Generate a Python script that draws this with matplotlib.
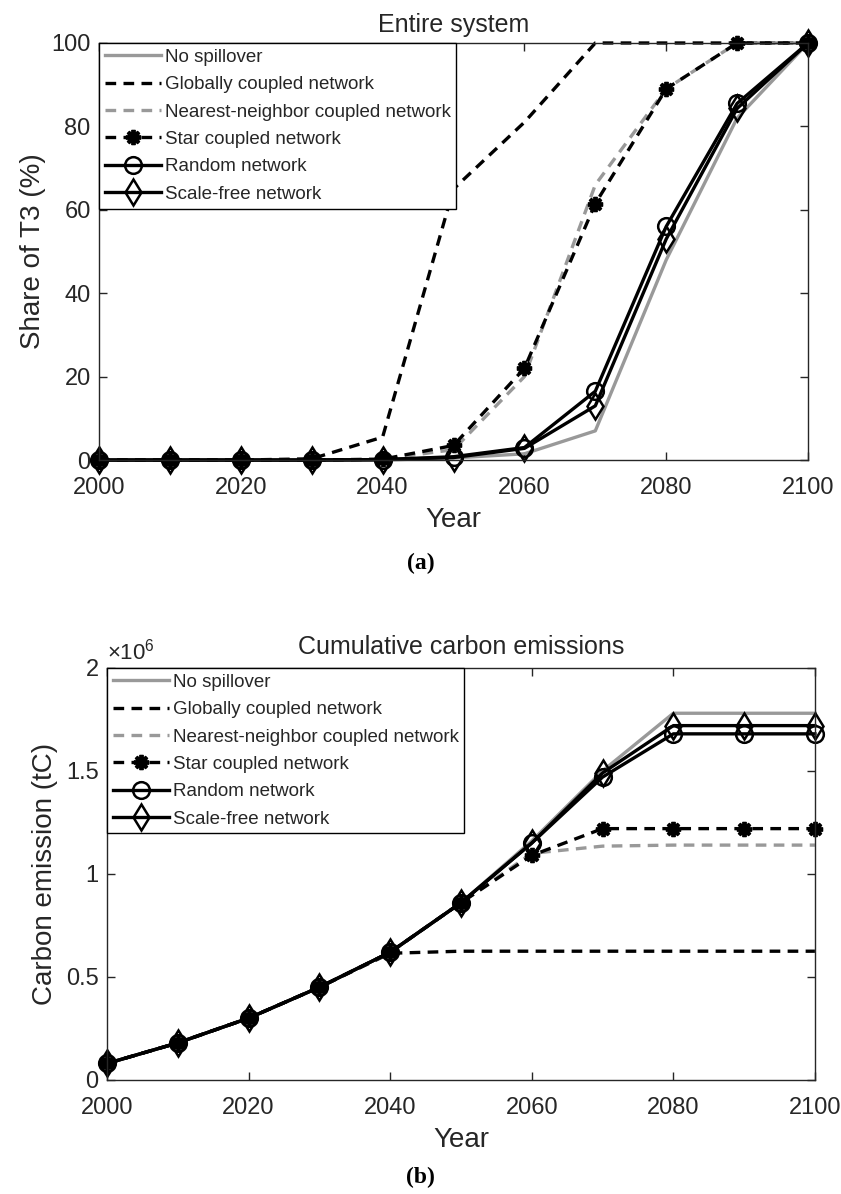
import matplotlib
matplotlib.use("Agg")
import matplotlib.pyplot as plt
from matplotlib.ticker import FixedLocator

plt.rcParams['font.family'] = ['Liberation Sans', 'DejaVu Sans']
plt.rcParams['mathtext.fontset'] = 'custom'
plt.rcParams['mathtext.rm'] = 'Liberation Sans'

years = [2000, 2010, 2020, 2030, 2040, 2050, 2060, 2070, 2080, 2090, 2100]

# Share of technology T3 in the entire system (%)
share_none = [0, 0, 0, 0, 0, 0.5, 1.5, 7, 48, 82, 100]
share_global = [0, 0, 0, 0.3, 5.5, 65, 81, 100, 100, 100, 100]
share_nearest = [0, 0, 0, 0, 0.2, 2.5, 20, 66, 89, 100, 100]
share_star = [0, 0, 0, 0, 0.2, 3.5, 22, 61.5, 89, 100, 100]
share_random = [0, 0, 0, 0, 0.1, 0.8, 3, 16.5, 56, 85.5, 100]
share_scalefree = [0, 0, 0, 0, 0.1, 0.6, 2.8, 13, 53, 84.3, 100]

# Cumulative carbon emissions (x10^6 tC)
emis_none = [0.08, 0.18, 0.30, 0.45, 0.62, 0.86, 1.16, 1.50, 1.78, 1.78, 1.78]
emis_global = [0.08, 0.18, 0.30, 0.45, 0.615, 0.625, 0.625, 0.625, 0.625, 0.625, 0.625]
emis_nearest = [0.08, 0.18, 0.30, 0.45, 0.62, 0.86, 1.10, 1.135, 1.14, 1.14, 1.14]
emis_star = [0.08, 0.18, 0.30, 0.45, 0.62, 0.86, 1.09, 1.22, 1.22, 1.22, 1.22]
emis_random = [0.08, 0.18, 0.30, 0.45, 0.62, 0.86, 1.15, 1.47, 1.68, 1.68, 1.68]
emis_scalefree = [0.08, 0.18, 0.30, 0.45, 0.62, 0.86, 1.15, 1.49, 1.72, 1.72, 1.72]

labels = ["No spillover", "Globally coupled network", "Nearest-neighbor coupled network",
          "Star coupled network", "Random network", "Scale-free network"]

GRAY = "#999999"
TXT = "#262626"
LW = 2.4
DASH = (0, (3.2, 2.2))
ASTER = (8, 2, 0)

styles = [
    dict(color=GRAY, lw=LW, ls='-'),
    dict(color='black', lw=LW, ls=DASH),
    dict(color=GRAY, lw=LW, ls=DASH),
    dict(color='black', lw=LW, ls=DASH, marker=ASTER, ms=11, mew=2.8, mec='black'),
    dict(color='black', lw=LW, ls='-', marker='o', ms=12, mfc='none', mec='black', mew=1.8),
    dict(color='black', lw=LW, ls='-', marker='d', ms=13, mfc='none', mec='black', mew=1.8),
]

fig = plt.figure(figsize=(8.41, 11.94), dpi=100)


def style_axes(ax):
    for sp in ax.spines.values():
        sp.set_color(TXT)
        sp.set_linewidth(1.0)
    ax.tick_params(direction='in', length=6, width=1, colors=TXT, labelsize=17,
                   top=True, right=True)
    ax.tick_params(axis='x', pad=12)
    ax.tick_params(axis='y', pad=6)
    ax.set_xlim(2000, 2100)
    ax.xaxis.set_major_locator(FixedLocator([2000, 2020, 2040, 2060, 2080, 2100]))


def add_legend(ax, handles):
    leg = ax.legend(handles, labels, loc='upper left', bbox_to_anchor=(0, 1),
                    borderaxespad=0, fontsize=13.5, handlelength=3.0, handletextpad=0.2,
                    labelspacing=0.55, borderpad=0.3, numpoints=1, fancybox=False,
                    framealpha=1, edgecolor='black', frameon=True)
    leg.get_frame().set_linewidth(1.0)
    for t in leg.get_texts():
        t.set_color(TXT)


# (a) share of T3
ax1 = fig.add_axes([0.1177, 0.6147, 0.8431, 0.3493])
series_a = [share_none, share_global, share_nearest, share_star, share_random, share_scalefree]
h1 = [ax1.plot(years, s, clip_on=False, **st)[0] for s, st in zip(series_a, styles)]
style_axes(ax1)
ax1.set_ylim(0, 100)
ax1.set_yticks([0, 20, 40, 60, 80, 100])
ax1.set_title("Entire system", fontsize=18, color=TXT, pad=8)
ax1.set_xlabel("Year", fontsize=20, color=TXT, labelpad=6)
ax1.set_ylabel("Share of T3 (%)", fontsize=20, color=TXT, labelpad=4)
add_legend(ax1, h1)
fig.text(0.5, 1 - 563 / 1194, "(a)", ha='center', va='center', fontsize=17,
         fontweight='bold', family='Liberation Serif')

# (b) cumulative carbon emissions
ax2 = fig.add_axes([0.1272, 0.0955, 0.8418, 0.3451])
series_b = [emis_none, emis_global, emis_nearest, emis_star, emis_random, emis_scalefree]
h2 = [ax2.plot(years, [v * 1e6 for v in s], clip_on=False, **st)[0]
      for s, st in zip(series_b, styles)]
style_axes(ax2)
ax2.set_ylim(0, 2e6)
ax2.set_yticks([0, 0.5e6, 1e6, 1.5e6, 2e6])
ax2.set_yticklabels(["0", "0.5", "1", "1.5", "2"])
ax2.text(0.0, 1.008, r"$\times10^{6}$", transform=ax2.transAxes, ha='left', va='bottom',
         fontsize=16, color=TXT)
ax2.set_title("Cumulative carbon emissions", fontsize=18, color=TXT, pad=10)
ax2.set_xlabel("Year", fontsize=20, color=TXT, labelpad=6)
ax2.set_ylabel("Carbon emission (tC)", fontsize=20, color=TXT, labelpad=6)
add_legend(ax2, h2)
fig.text(0.5, 1 - 1177 / 1194, "(b)", ha='center', va='center', fontsize=17,
         fontweight='bold', family='Liberation Serif')

fig.savefig("out.png", dpi=100, facecolor='white')
